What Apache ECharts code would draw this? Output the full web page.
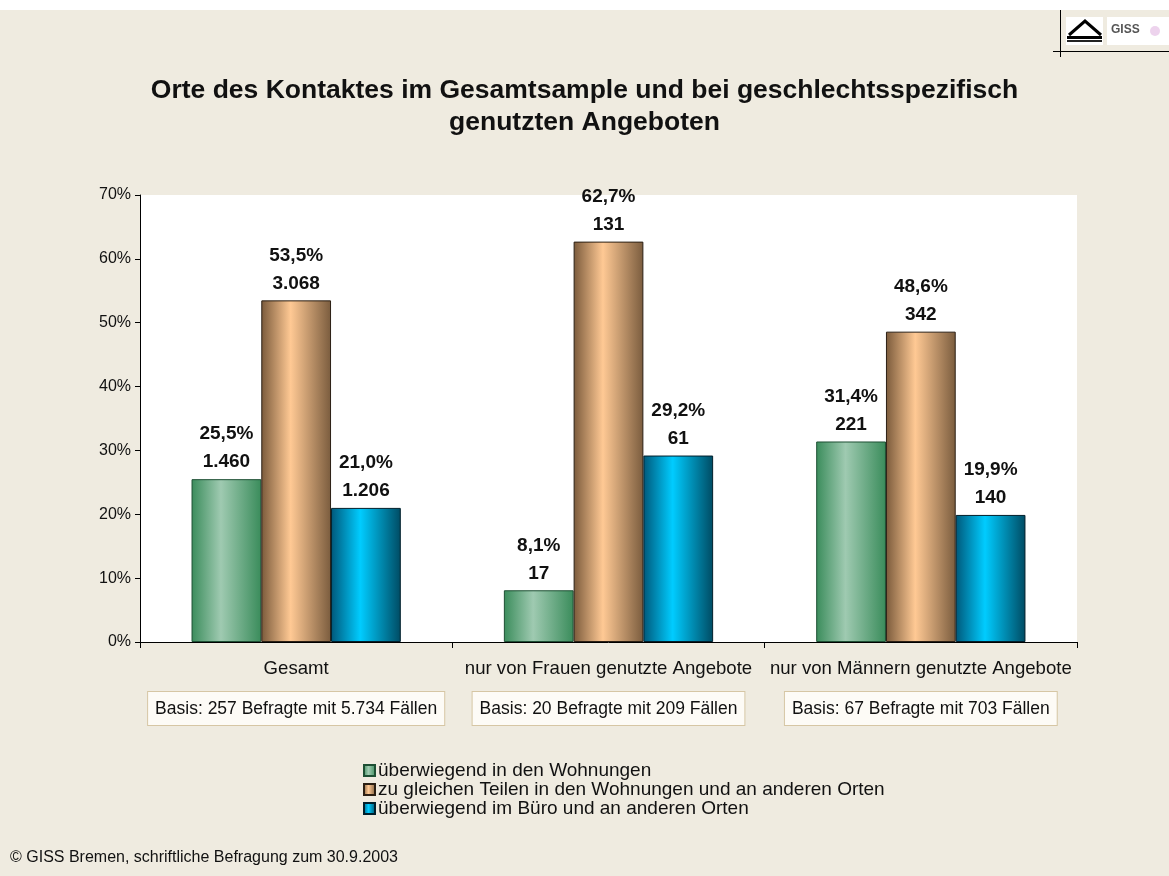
<!DOCTYPE html>
<html><head><meta charset="utf-8">
<script src="https://cdn.jsdelivr.net/npm/echarts@6/dist/echarts.min.js"></script>
<style>html,body{margin:0;padding:0;background:#fff}#c{width:1169px;height:876px}</style>
</head><body><div id="c"></div>
<script>
const categories = ['Gesamt', 'nur von Frauen genutzte Angebote', 'nur von Männern genutzte Angebote'];
const basisTexts = ['Basis: 257 Befragte mit 5.734 Fällen', 'Basis: 20 Befragte mit 209 Fällen', 'Basis: 67 Befragte mit 703 Fällen'];
const seriesNames = ['überwiegend in den Wohnungen', 'zu gleichen Teilen in den Wohnungen und an anderen Orten', 'überwiegend im Büro und an anderen Orten'];
const pctWohnungen = [25.5, 8.1, 31.4];
const pctGleich = [53.5, 62.7, 48.6];
const pctBuero = [21.0, 29.2, 19.9];
const nWohnungen = [1460, 17, 221];
const nGleich = [3068, 131, 342];
const nBuero = [1206, 61, 140];
const yMin = 0, yMax = 70, yStep = 10;
const titleText = 'Orte des Kontaktes im Gesamtsample und bei geschlechtsspezifisch\ngenutzten Angeboten';
const footerText = '© GISS Bremen, schriftliche Befragung zum 30.9.2003';

const FONT = 'Liberation Sans, Arial, sans-serif';
function fmtPct(v) { return v.toFixed(1).replace('.', ',') + '%'; }
function fmtN(n) { return String(n).replace(/\B(?=(\d{3})+(?!\d))/g, '.'); }
function grad(edgeL, mid, edgeR) {
  return new echarts.graphic.LinearGradient(0, 0, 1, 0, [
    { offset: 0, color: edgeL }, { offset: 0.42, color: mid }, { offset: 1, color: edgeR }
  ]);
}
const styles = [
  { color: grad('#3A8C5B', '#9FCAB1', '#3A8C5B'), borderColor: '#1D4F33' },
  { color: grad('#7A5A3B', '#FFC994', '#7A5C3E'), borderColor: '#2B1F14' },
  { color: grad('#00587A', '#00CCFF', '#004B63'), borderColor: '#001F2B' }
];
const pcts = [pctWohnungen, pctGleich, pctBuero];
const counts = [nWohnungen, nGleich, nBuero];

const series = seriesNames.map((name, s) => ({
  name: name,
  type: 'bar',
  barGap: '0%',
  barCategoryGap: '33%',
  data: pcts[s],
  itemStyle: { color: styles[s].color, borderColor: styles[s].borderColor, borderWidth: 1 },
  label: {
    show: true, position: 'top', distance: 3,
    formatter: p => fmtPct(p.value) + '\n' + fmtN(counts[s][p.dataIndex]),
    fontFamily: FONT, fontSize: 19, fontWeight: 'bold', color: '#111', lineHeight: 28
  }
}));

const chart = echarts.init(document.getElementById('c'), null, { renderer: 'canvas' });
chart.setOption({
  backgroundColor: '#EFEBE0',
  animation: false,
  title: {
    text: titleText, left: 'center', top: 70,
    textStyle: { fontFamily: FONT, fontSize: 26.5, fontWeight: 'bold', color: '#111', lineHeight: 32 }
  },
  grid: { left: 140, right: 92, top: 195, bottom: 234, show: true, backgroundColor: '#ffffff', borderWidth: 0 },
  xAxis: {
    type: 'category', data: categories,
    axisLine: { lineStyle: { color: '#000', width: 1 } },
    axisTick: { show: true, length: 6, lineStyle: { color: '#000' } },
    axisLabel: {
      margin: 17, interval: 0,
      formatter: (v, i) => '{c|' + v + '}\n{s| }\n{b|' + basisTexts[i] + '}',
      rich: {
        c: { fontFamily: FONT, fontSize: 18.6, color: '#111', lineHeight: 20 },
        s: { fontSize: 1, lineHeight: 19 },
        b: { fontFamily: FONT, fontSize: 17.5, color: '#111', lineHeight: 21, padding: [8, 7, 7, 7],
             backgroundColor: '#FDFBF6', borderColor: '#D6C6A4', borderWidth: 1 }
      }
    }
  },
  yAxis: {
    type: 'value', min: yMin, max: yMax, interval: yStep,
    axisLine: { show: true, lineStyle: { color: '#000', width: 1 } },
    axisTick: { show: true, length: 5, lineStyle: { color: '#000' } },
    splitLine: { show: false },
    axisLabel: { formatter: '{value}%', fontFamily: FONT, fontSize: 16, color: '#111', margin: 9 }
  },
  legend: {
    orient: 'vertical', left: 358, top: 756, itemGap: 0, itemWidth: 11, itemHeight: 11,
    icon: 'rect', data: seriesNames,
    textStyle: { fontFamily: FONT, fontSize: 19, color: '#111', lineHeight: 18, padding: [0, 0, 0, -2] }
  },
  graphic: [
    { type: 'rect', left: 0, top: 0, shape: { width: 1169, height: 10 }, style: { fill: '#ffffff' }, silent: true },
    { type: 'text', left: 10, top: 850, style: { text: footerText, font: '16px ' + FONT, fill: '#111' } },
    { type: 'rect', shape: { x: 1066, y: 17, width: 37, height: 28 }, style: { fill: '#ffffff' } },
    { type: 'rect', shape: { x: 1107, y: 17, width: 62, height: 28 }, style: { fill: '#ffffff' } },
    { type: 'polyline', shape: { points: [[1069, 35], [1085, 21], [1101, 35]] }, style: { stroke: '#000', lineWidth: 3, fill: null } },
    { type: 'rect', shape: { x: 1067, y: 36, width: 35, height: 3 }, style: { fill: '#000' } },
    { type: 'rect', shape: { x: 1067, y: 40, width: 35, height: 2 }, style: { fill: '#222' } },
    { type: 'text', style: { x: 1111, y: 24, text: 'GISS', font: 'bold 12px ' + FONT, fill: '#555' } },
    { type: 'circle', shape: { cx: 1155, cy: 31, r: 5 }, style: { fill: '#E8C8E8', opacity: 0.8 } },
    { type: 'line', shape: { x1: 1060.5, y1: 10, x2: 1060.5, y2: 57 }, style: { stroke: '#000', lineWidth: 1 } },
    { type: 'line', shape: { x1: 1053, y1: 51.5, x2: 1169, y2: 51.5 }, style: { stroke: '#000', lineWidth: 1 } }
  ],
  series: series
});
</script></body></html>
